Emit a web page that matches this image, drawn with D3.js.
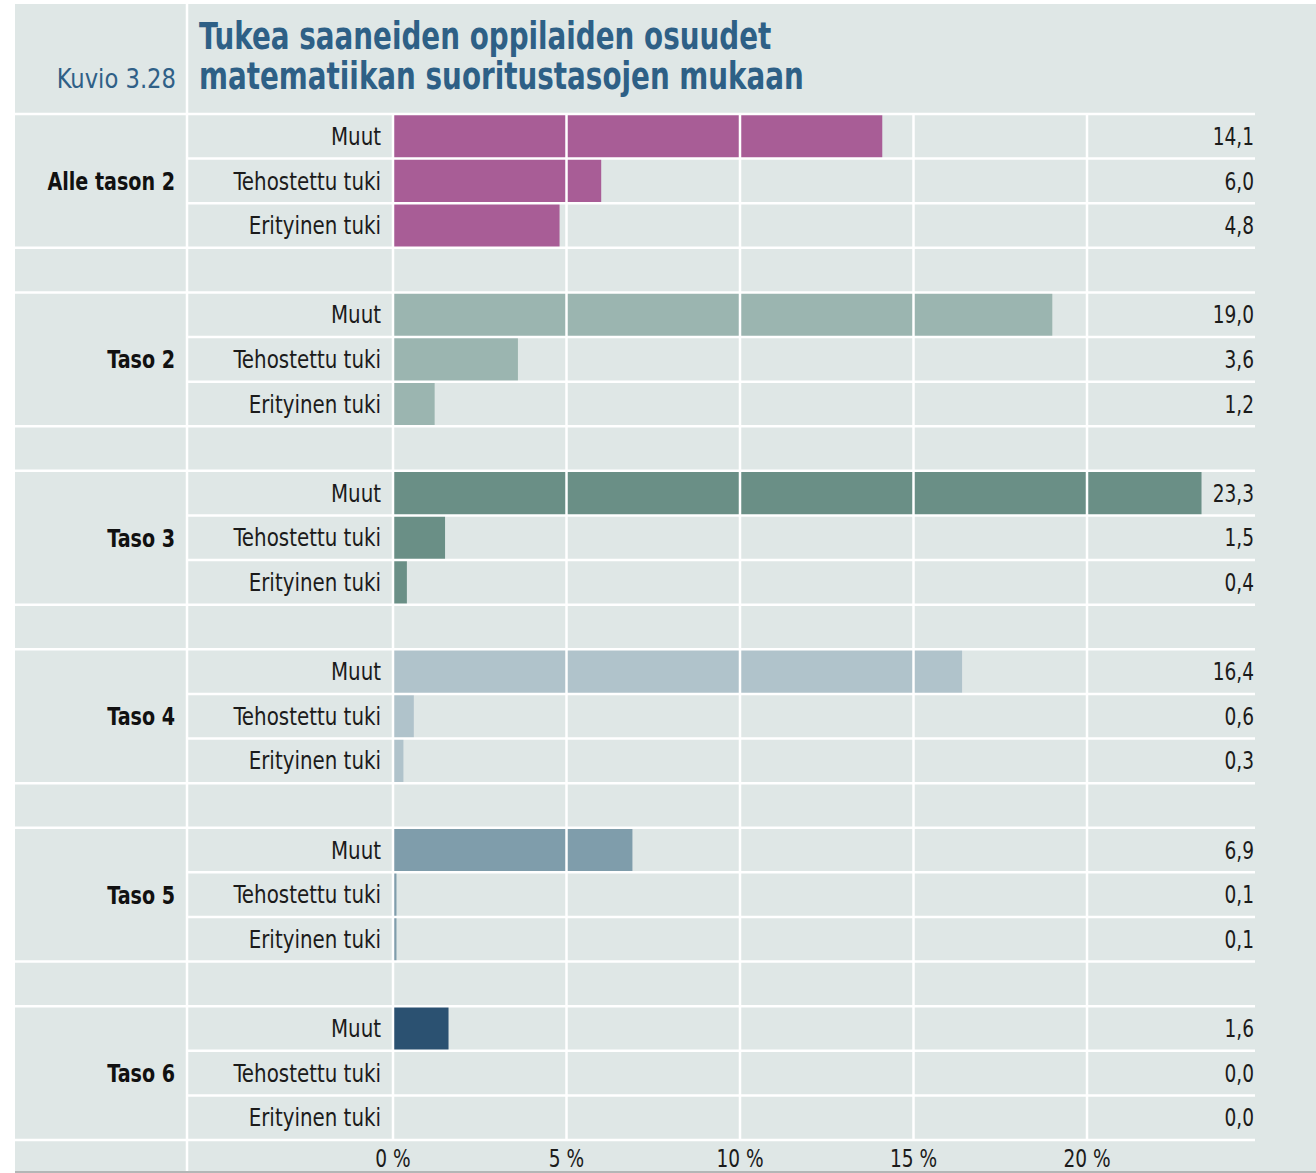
<!DOCTYPE html>
<html>
<head>
<meta charset="utf-8">
<script src="https://cdn.jsdelivr.net/npm/d3@7"></script>
<style>
  body { margin: 0; background: #fff; }
  text { font-family: "DejaVu Sans Condensed", "DejaVu Sans", sans-serif; }
</style>
</head>
<body>
<div id="chart"></div>
<script>
// data
const groups = ["Alle tason 2", "Taso 2", "Taso 3", "Taso 4", "Taso 5", "Taso 6"];
const supportTypes = ["Muut", "Tehostettu tuki", "Erityinen tuki"];
const muut = [14.1, 19.0, 23.3, 16.4, 6.9, 1.6];
const tehostettu = [6.0, 3.6, 1.5, 0.6, 0.1, 0.0];
const erityinen = [4.8, 1.2, 0.4, 0.3, 0.1, 0.0];
const groupColors = ["#a85d96", "#9bb5b0", "#6a8f86", "#b0c3cb", "#7f9dab", "#2b5171"];
const xTicks = [0, 5, 10, 15, 20];
const titleLines = ["Tukea saaneiden oppilaiden osuudet", "matematiikan suoritustasojen mukaan"];
const figureLabel = "Kuvio 3.28";

const W = 1316, H = 1173;
const bg = "#dfe7e6";
const gridColor = "#ffffff";
const panelLeft = 15, panelTop = 4, panelBottom = 1171;
const colSplit = 187, lineRight = 1255;
const fmt = v => d3.format(".1f")(v).replace(".", ",");

// flat rows incl. gap rows between groups
const rows = [];
groups.forEach((g, gi) => {
    const vals = [muut[gi], tehostettu[gi], erityinen[gi]];
    supportTypes.forEach((s, si) => rows.push({key: g + "|" + s, group: g, gi, si, label: s, value: vals[si]}));
    if (gi < groups.length - 1) rows.push({key: g + "|gap", gap: true, gi});
});

const x = d3.scaleLinear([0, 20], [393, 1087]);
const y = d3.scaleBand(rows.map(d => d.key), [114, 1140]).paddingInner(0).paddingOuter(0);

const svg = d3.select("#chart").append("svg")
    .attr("width", W)
    .attr("height", H);

svg.append("rect")
    .attr("x", panelLeft).attr("y", panelTop)
    .attr("width", W - panelLeft).attr("height", panelBottom - panelTop)
    .attr("fill", bg);

svg.append("rect")
    .attr("x", panelLeft).attr("y", panelBottom)
    .attr("width", W - panelLeft).attr("height", H - panelBottom)
    .attr("fill", "#b3b6b6");

const dataRows = rows.filter(d => !d.gap);

// bars
svg.selectAll(".bar")
    .data(dataRows.filter(d => d.value > 0))
    .join("rect")
    .attr("class", "bar")
    .attr("x", x(0))
    .attr("y", d => y(d.key))
    .attr("width", d => x(d.value) - x(0))
    .attr("height", y.bandwidth())
    .attr("fill", d => groupColors[d.gi]);

// vertical grid lines, drawn over bars
svg.selectAll(".vgrid")
    .data(xTicks)
    .join("line")
    .attr("class", "vgrid")
    .attr("x1", d => x(d)).attr("x2", d => x(d))
    .attr("y1", 114).attr("y2", 1140)
    .attr("stroke", gridColor)
    .attr("stroke-width", 2.5);

svg.append("line")
    .attr("x1", colSplit).attr("x2", colSplit)
    .attr("y1", panelTop).attr("y2", panelBottom)
    .attr("stroke", gridColor).attr("stroke-width", 2.5);

// horizontal lines: group/gap boundaries span full width, inner ones only right part
const hLines = [];
rows.forEach(d => {
    const top = y(d.key);
    if (d.gap || d.si === 0) hLines.push({y: top, x1: panelLeft});
    else hLines.push({y: top, x1: colSplit});
});
hLines.push({y: y.range()[1], x1: panelLeft});

svg.selectAll(".hline")
    .data(hLines)
    .join("line")
    .attr("class", "hline")
    .attr("x1", d => d.x1).attr("x2", lineRight)
    .attr("y1", d => d.y).attr("y2", d => d.y)
    .attr("stroke", gridColor)
    .attr("stroke-width", 2.5);

// narrow the type a bit, the original uses a condensed face
function squeeze(sel, fx, fy, sx) {
    sel.attr("transform", (d, i) => `translate(${fx(d, i)},${fy(d, i)}) scale(${sx},1)`);
}

const midY = d => y(d.key) + y.bandwidth() / 2;

// sub labels
svg.selectAll(".sublabel")
    .data(dataRows)
    .join("text")
    .attr("class", "sublabel")
    .attr("dy", "0.36em")
    .attr("text-anchor", "end")
    .attr("font-size", 24)
    .attr("fill", "#1b1b1b")
    .text(d => d.label)
    .call(squeeze, () => 381, midY, 0.92);

// values
svg.selectAll(".value")
    .data(dataRows)
    .join("text")
    .attr("class", "value")
    .attr("dy", "0.36em")
    .attr("text-anchor", "end")
    .attr("font-size", 24)
    .attr("fill", "#1b1b1b")
    .text(d => fmt(d.value))
    .call(squeeze, () => 1254, midY, 0.86);

// group labels
svg.selectAll(".glabel")
    .data(groups)
    .join("text")
    .attr("class", "glabel")
    .attr("dy", "0.36em")
    .attr("text-anchor", "end")
    .attr("font-size", 25)
    .attr("font-weight", "bold")
    .attr("fill", "#111")
    .text(g => g)
    .call(squeeze, () => 175, g => y(g + "|" + supportTypes[1]) + y.bandwidth() / 2, 0.85);

// axis labels
svg.selectAll(".xtick")
    .data(xTicks)
    .join("text")
    .attr("class", "xtick")
    .attr("text-anchor", "middle")
    .attr("font-size", 24)
    .attr("fill", "#1b1b1b")
    .text(d => d + " %")
    .call(squeeze, d => x(d), () => 1167, 0.86);

// title
svg.selectAll(".title")
    .data(titleLines)
    .join("text")
    .attr("class", "title")
    .attr("font-size", 37)
    .attr("font-weight", "bold")
    .attr("fill", "#2e6086")
    .text(d => d)
    .call(squeeze, () => 199, (d, i) => 49 + i * 40, 0.835);

svg.append("text")
    .attr("font-size", 26)
    .attr("text-anchor", "end")
    .attr("fill", "#2f6087")
    .attr("transform", "translate(176,88) scale(0.97,1)")
    .text(figureLabel);
</script>
</body>
</html>
